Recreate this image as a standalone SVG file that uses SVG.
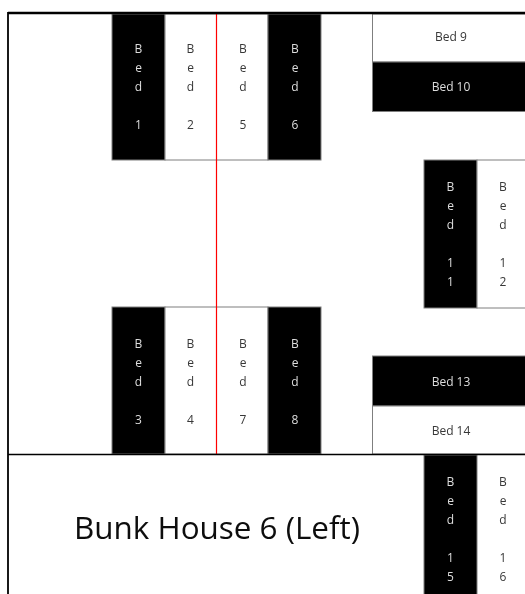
<svg xmlns="http://www.w3.org/2000/svg" width="525" height="594" viewBox="0 0 525 594">
<defs><filter id="soft" x="-20%" y="-20%" width="140%" height="140%"><feGaussianBlur stdDeviation="0.3"/></filter></defs>
<style>
.k{fill:#000;stroke:#7f7f7f;stroke-width:1}
.w{fill:#fff;stroke:#7f7f7f;stroke-width:1}
text{font-family:"Open Sans","Noto Sans","Liberation Sans",sans-serif;font-size:12px;text-anchor:middle;filter:url(#soft)}
.tk{fill:#ddd}
.tw{fill:#383838}
.title{font-size:30.5px;fill:#111;text-anchor:start}
.wall{stroke:#000;fill:none}
</style>
<rect width="525" height="594" fill="#fff"/>
<g id="bed1"><rect class="k" x="112" y="14" width="53" height="146"/><text class="tk"><tspan x="138.5" y="52.500">B</tspan><tspan x="138.5" y="71.500">e</tspan><tspan x="138.500" y="90.500">d</tspan><tspan x="138.5" y="128.500">1</tspan></text></g>
<g id="bed2"><rect class="w" x="165" y="14" width="51.500" height="146"/><text class="tw"><tspan x="190.500" y="52.500">B</tspan><tspan x="190.500" y="71.500">e</tspan><tspan x="190.500" y="90.500">d</tspan><tspan x="190.500" y="128.500">2</tspan></text></g>
<g id="bed5"><rect class="w" x="216.500" y="14" width="51.500" height="146"/><text class="tw"><tspan x="243" y="52.500">B</tspan><tspan x="243" y="71.500">e</tspan><tspan x="243" y="90.500">d</tspan><tspan x="243" y="128.500">5</tspan></text></g>
<g id="bed6"><rect class="k" x="268" y="14" width="53" height="146"/><text class="tk"><tspan x="295" y="52.500">B</tspan><tspan x="295" y="71.500">e</tspan><tspan x="295" y="90.500">d</tspan><tspan x="295" y="128.500">6</tspan></text></g>
<g id="bed3"><rect class="k" x="112" y="307" width="53" height="147"/><text class="tk"><tspan x="138.5" y="348">B</tspan><tspan x="138.5" y="367">e</tspan><tspan x="138.5" y="385.500">d</tspan><tspan x="138.5" y="423.500">3</tspan></text></g>
<g id="bed4"><rect class="w" x="165" y="307" width="51.500" height="147"/><text class="tw"><tspan x="190.500" y="348">B</tspan><tspan x="190.500" y="367">e</tspan><tspan x="190.500" y="385.500">d</tspan><tspan x="190.500" y="423.500">4</tspan></text></g>
<g id="bed7"><rect class="w" x="216.500" y="307" width="51.500" height="147"/><text class="tw"><tspan x="243" y="348">B</tspan><tspan x="243" y="367">e</tspan><tspan x="243" y="385.500">d</tspan><tspan x="243" y="423.500">7</tspan></text></g>
<g id="bed8"><rect class="k" x="268" y="307" width="53" height="147"/><text class="tk"><tspan x="295" y="348">B</tspan><tspan x="295" y="367">e</tspan><tspan x="295" y="385.500">d</tspan><tspan x="295" y="423.500">8</tspan></text></g>
<g id="bed9"><rect class="w" x="372.500" y="14" width="160" height="48"/><text class="tw" x="451" y="40.500">Bed 9</text></g>
<g id="bed10"><rect class="k" x="372.500" y="62" width="160" height="49.500"/><text class="tk" x="451" y="90.500">Bed 10</text></g>
<g id="bed11"><rect class="k" x="424" y="160" width="53" height="148"/><text class="tk"><tspan x="450.500" y="191">B</tspan><tspan x="450.500" y="210">e</tspan><tspan x="450.500" y="228.500">d</tspan><tspan x="450.500" y="266.500">1</tspan><tspan x="450.500" y="285.500">1</tspan></text></g>
<g id="bed12"><rect class="w" x="477" y="160" width="60" height="148"/><text class="tw"><tspan x="503" y="191">B</tspan><tspan x="503" y="210">e</tspan><tspan x="503" y="228.500">d</tspan><tspan x="503" y="266.500">1</tspan><tspan x="503" y="285.500">2</tspan></text></g>
<g id="bed13"><rect class="k" x="372.500" y="356" width="160" height="50"/><text class="tk" x="451" y="385.500">Bed 13</text></g>
<g id="bed14"><rect class="w" x="372.500" y="406" width="160" height="48"/><text class="tw" x="451" y="434.500">Bed 14</text></g>
<g id="bed15"><rect class="k" x="424" y="455" width="53" height="150"/><text class="tk"><tspan x="450.500" y="486">B</tspan><tspan x="450.500" y="504.500">e</tspan><tspan x="450.500" y="523.500">d</tspan><tspan x="450.500" y="561.500">1</tspan><tspan x="450.500" y="580.500">5</tspan></text></g>
<g id="bed16"><text class="tw"><tspan x="503" y="486">B</tspan><tspan x="503" y="504.500">e</tspan><tspan x="503" y="523.500">d</tspan><tspan x="503" y="561.500">1</tspan><tspan x="503" y="580.500">6</tspan></text></g>
<g id="connectors">
<path d="M216.500 14V454" stroke="#f00" stroke-width="1.200" fill="none"/>
<path class="wall" stroke-width="2.500" d="M8 13H525"/>
<path class="wall" stroke-width="1.500" d="M8 454.500H525"/>
<path class="wall" stroke-width="1.800" d="M8 12V594"/>
</g>
<g id="label"><text class="title" x="74" y="539" textLength="286" lengthAdjust="spacingAndGlyphs">Bunk House 6 (Left)</text></g>
</svg>
